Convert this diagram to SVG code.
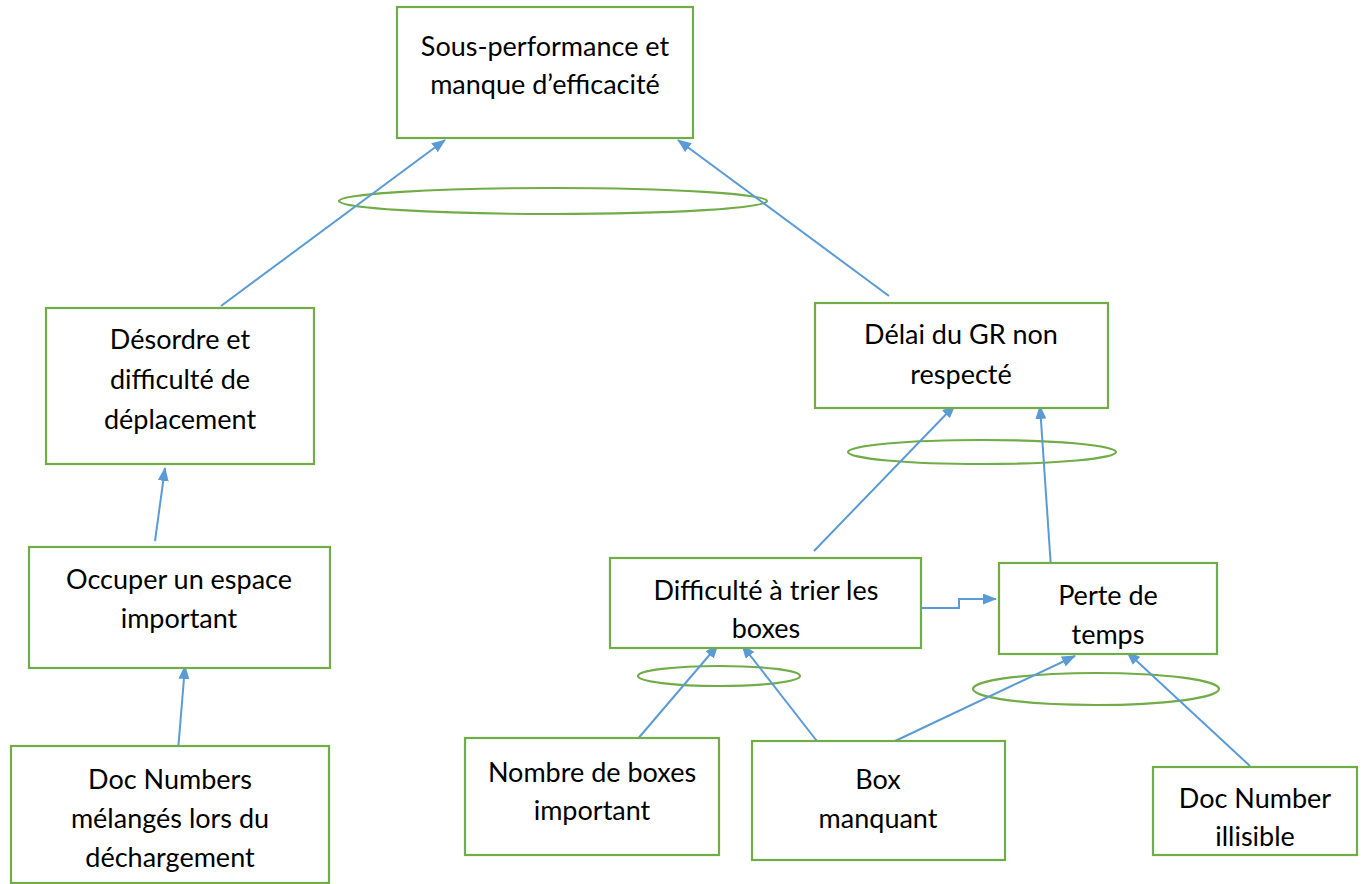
<svg xmlns="http://www.w3.org/2000/svg" width="1366" height="884" viewBox="0 0 1366 884">
  <style>
    .box { fill: #fff; stroke: #70AD47; stroke-width: 2.2; }
    .ring { fill: none; stroke: #70AD47; stroke-width: 2.2; }
    .lbl { font-family: Lato, "Open Sans", "Liberation Sans", sans-serif; font-size: 27px; fill: #000; text-anchor: middle; dominant-baseline: central; }
    .link { fill: none; stroke: #5B9BD5; stroke-width: 2; marker-end: url(#ah); }
  </style>
  <defs>
    <marker id="ah" viewBox="0 0 14 11" refX="13" refY="5.5" markerWidth="14" markerHeight="11" markerUnits="userSpaceOnUse" orient="auto">
      <path d="M0,0 L14,5.5 L0,11 Z" fill="#5B9BD5"/>
    </marker>
  </defs>
  <rect width="1366" height="884" fill="#fff"/>

  <!-- connectors and grouping rings -->
  <g id="connectors">
    <ellipse class="ring" cx="553" cy="201" rx="214" ry="13"/>
    <ellipse class="ring" cx="982" cy="452" rx="134" ry="12"/>
    <ellipse class="ring" cx="719" cy="676" rx="81" ry="10"/>
    <ellipse class="ring" cx="1096" cy="689" rx="123" ry="16"/>
    <line class="link" x1="221" y1="306" x2="445" y2="140"/>
    <line class="link" x1="889" y1="296" x2="678" y2="140"/>
    <line class="link" x1="814" y1="551" x2="955" y2="405"/>
    <line class="link" x1="1051" y1="568" x2="1040" y2="406"/>
    <line class="link" x1="155" y1="541" x2="165" y2="468"/>
    <line class="link" x1="178" y1="751" x2="185" y2="666"/>
    <line class="link" x1="636" y1="741" x2="718" y2="645"/>
    <line class="link" x1="820" y1="745" x2="742" y2="645"/>
    <line class="link" x1="893" y1="742" x2="1075" y2="656"/>
    <line class="link" x1="1250" y1="766" x2="1127" y2="652"/>
    <polyline class="link" points="921,608 959,608 959,599 996,599"/>
  </g>

  <g id="n-sous-performance">
    <rect class="box" x="397" y="7" width="296" height="131"/>
    <text class="lbl" x="545" y="45">Sous-performance et</text>
    <text class="lbl" x="545" y="83">manque d’efficacité</text>
  </g>
  <g id="n-desordre">
    <rect class="box" x="46" y="308" width="268" height="156"/>
    <text class="lbl" x="180" y="338">Désordre et</text>
    <text class="lbl" x="180" y="378">difficulté de</text>
    <text class="lbl" x="180" y="418">déplacement</text>
  </g>
  <g id="n-delai">
    <rect class="box" x="815" y="303" width="293" height="105"/>
    <text class="lbl" x="961" y="333">Délai du GR non</text>
    <text class="lbl" x="961" y="373">respecté</text>
  </g>
  <g id="n-occuper">
    <rect class="box" x="29" y="547" width="301" height="121"/>
    <text class="lbl" x="179" y="578">Occuper un espace</text>
    <text class="lbl" x="179" y="617">important</text>
  </g>
  <g id="n-doc-numbers">
    <rect class="box" x="11" y="746" width="318" height="137"/>
    <text class="lbl" x="170" y="778">Doc Numbers</text>
    <text class="lbl" x="170" y="817">mélangés lors du</text>
    <text class="lbl" x="170" y="856">déchargement</text>
  </g>
  <g id="n-difficulte">
    <rect class="box" x="610" y="558" width="311" height="90"/>
    <text class="lbl" x="766" y="589">Difficulté à trier les</text>
    <text class="lbl" x="766" y="627">boxes</text>
  </g>
  <g id="n-perte">
    <rect class="box" x="999" y="563" width="218" height="91"/>
    <text class="lbl" x="1108" y="594">Perte de</text>
    <text class="lbl" x="1108" y="633">temps</text>
  </g>
  <g id="n-nombre">
    <rect class="box" x="465" y="738" width="254" height="117"/>
    <text class="lbl" x="592" y="771">Nombre de boxes</text>
    <text class="lbl" x="592" y="809">important</text>
  </g>
  <g id="n-box-manquant">
    <rect class="box" x="752" y="741" width="253" height="119"/>
    <text class="lbl" x="878" y="778">Box</text>
    <text class="lbl" x="878" y="817">manquant</text>
  </g>
  <g id="n-illisible">
    <rect class="box" x="1153" y="767" width="204" height="88"/>
    <text class="lbl" x="1255" y="797">Doc Number</text>
    <text class="lbl" x="1255" y="835">illisible</text>
  </g>
</svg>
